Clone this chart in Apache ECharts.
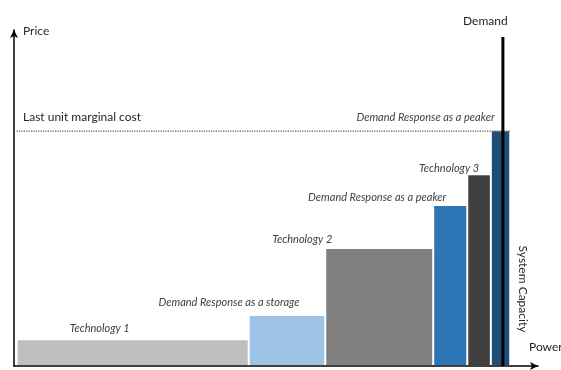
<!DOCTYPE html>
<html><head><meta charset="utf-8">
<script src="https://cdn.jsdelivr.net/npm/echarts@6/dist/echarts.min.js"></script>
<style>html,body{margin:0;padding:0;background:#fff}#c{width:561px;height:370px}</style>
</head><body><div id="c"></div>
<script>
// ---- data (arbitrary units: power 0..100, price 0..100) ----
const categories = ['Technology 1', 'Demand Response as a storage', 'Technology 2', 'Demand Response as a peaker', 'Technology 3', 'Demand Response as a peaker'];
const capacityStart = [0.5, 44.8, 59.4, 80.0, 86.5, 91.0];
const capacityEnd = [44.8, 59.4, 80.0, 86.5, 91.0, 94.7];
const prices = [7.7, 14.9, 34.8, 47.6, 56.8, 69.9];
const demandPower = 93.3;
const demandTop = 97.9;
const lastUnitCost = 69.9;
const dottedFrom = 0.5;
const dottedTo = 94.7;

// ---- styles ----
const barColors = ['#bfbfbf', '#9dc3e6', '#7f7f7f', '#2e75b6', '#404040', '#1f4e79'];
const labelOffsets = [[-33, -12], [-58, -13], [-77, -10], [-73, -9], [-30, -7], [-75, -14]];
const FONT = 'Lato';

const barData = categories.map((c, i) => [capacityStart[i], capacityEnd[i], prices[i], i]);

const chart = echarts.init(document.getElementById('c'), null, {renderer: 'canvas'});
const axisCommon = {
  type: 'value', min: 0, max: 100,
  axisLine: {show: true, lineStyle: {color: '#000', width: 1.5}, symbol: ['none', 'arrow'], symbolSize: [6, 8]},
  axisTick: {show: false}, axisLabel: {show: false}, splitLine: {show: false}
};
chart.setOption({
  animation: false,
  grid: {left: 14, right: 23, top: 30, bottom: 4},
  xAxis: Object.assign({}, axisCommon),
  yAxis: Object.assign({}, axisCommon),
  graphic: [
    {type: 'text', left: 23, top: 25, style: {text: 'Price', font: '12px ' + FONT, fill: '#262626'}},
    {type: 'text', left: 23, top: 111, style: {text: 'Last unit marginal cost', font: '12px ' + FONT, fill: '#262626'}},
    {type: 'text', left: 463, top: 15, style: {text: 'Demand', font: '12px ' + FONT, fill: '#262626'}},
    {type: 'text', left: 529, top: 341, style: {text: 'Power', font: '12px ' + FONT, fill: '#262626'}},
    {type: 'text', x: 523, y: 289, rotation: -Math.PI / 2,
     style: {text: 'System Capacity', font: '12px ' + FONT, fill: '#262626', align: 'center', verticalAlign: 'middle'}}
  ],
  series: [
    {
      type: 'custom',
      data: barData,
      encode: {x: [0, 1], y: 2},
      renderItem: function (params, api) {
        const i = api.value(3);
        const p0 = api.coord([api.value(0), api.value(2)]);
        const p1 = api.coord([api.value(1), 0]);
        const w = p1[0] - p0[0];
        return {
          type: 'group',
          children: [
            {type: 'rect', shape: {x: p0[0] + 1, y: p0[1], width: w - 2, height: p1[1] - p0[1] - 1},
             style: {fill: barColors[i]}},
            {type: 'text', x: p0[0] + w / 2 + labelOffsets[i][0], y: p0[1] + labelOffsets[i][1],
             style: {text: categories[i], font: 'italic 11px ' + FONT, fill: '#404040', align: 'center', verticalAlign: 'middle'}}
          ]
        };
      },
      z: 2
    },
    {
      type: 'line', symbol: 'none', z: 3,
      data: [[dottedFrom, lastUnitCost], [dottedTo, lastUnitCost]],
      lineStyle: {color: '#555', width: 1.2, type: 'dotted'}
    },
    {
      type: 'line', symbol: 'none', z: 4,
      data: [[demandPower, 0], [demandPower, demandTop]],
      lineStyle: {color: '#000', width: 3}
    }
  ]
});
</script></body></html>
